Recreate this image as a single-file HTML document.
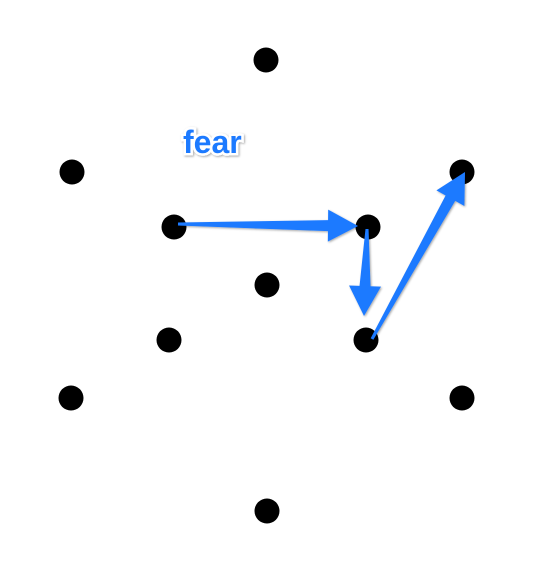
<!DOCTYPE html>
<html><head><meta charset="utf-8"><style>
html,body{margin:0;padding:0;background:#fff;width:538px;height:563px;overflow:hidden}
</style></head><body>
<svg id="chart" width="538" height="563" viewBox="0 0 538 563" xmlns="http://www.w3.org/2000/svg">
<defs><filter id="sh" x="-20%" y="-20%" width="140%" height="140%"><feDropShadow dx="1" dy="1" stdDeviation="1" flood-color="#000" flood-opacity="0.35"/></filter></defs>
<text x="183" y="153" font-family="Liberation Sans, sans-serif" font-weight="bold" font-size="32" fill="#1f7aff" stroke="#fff" stroke-width="5" paint-order="stroke" filter="url(#sh)">fear</text>
<g id="dots"></g><g id="arrows"></g>
</svg>
<script>
const dotX=[266,72,462,174,368,267,169,366,71,462,267];
const dotY=[60,172,172,227,227,285,340,340,398,398,511];
const arrowFrom=[[178,224],[367,229],[372,339]];
const arrowTo=[[358,226],[364,316],[465,172]];
const ns="http://www.w3.org/2000/svg";
const dg=document.getElementById('dots');
dotX.forEach((x,i)=>{
  const c=document.createElementNS(ns,'circle');
  c.setAttribute('cx',x);c.setAttribute('cy',dotY[i]);c.setAttribute('r',12.5);c.setAttribute('fill','#000');
  
  
  dg.appendChild(c);
});
const ag=document.getElementById('arrows');
arrowFrom.forEach((f,i)=>{
  const t=arrowTo[i];
  const dx=t[0]-f[0],dy=t[1]-f[1],L=Math.hypot(dx,dy),ux=dx/L,uy=dy/L,px=-uy,py=ux;
  const hl=30,hw=16,w0=1.5,w1=5.5;
  const bx=t[0]-ux*hl,by=t[1]-uy*hl;
  const pts=[[f[0]+px*w0,f[1]+py*w0],[bx+px*w1,by+py*w1],[bx+px*hw,by+py*hw],t,[bx-px*hw,by-py*hw],[bx-px*w1,by-py*w1],[f[0]-px*w0,f[1]-py*w0]];
  const p=document.createElementNS(ns,'polygon');
  p.setAttribute('points',pts.map(q=>q.join(',')).join(' '));
  p.setAttribute('fill','#1f7aff');
  p.setAttribute('filter','url(#sh)');
  
  
  ag.appendChild(p);
});
</script>
</body></html>
